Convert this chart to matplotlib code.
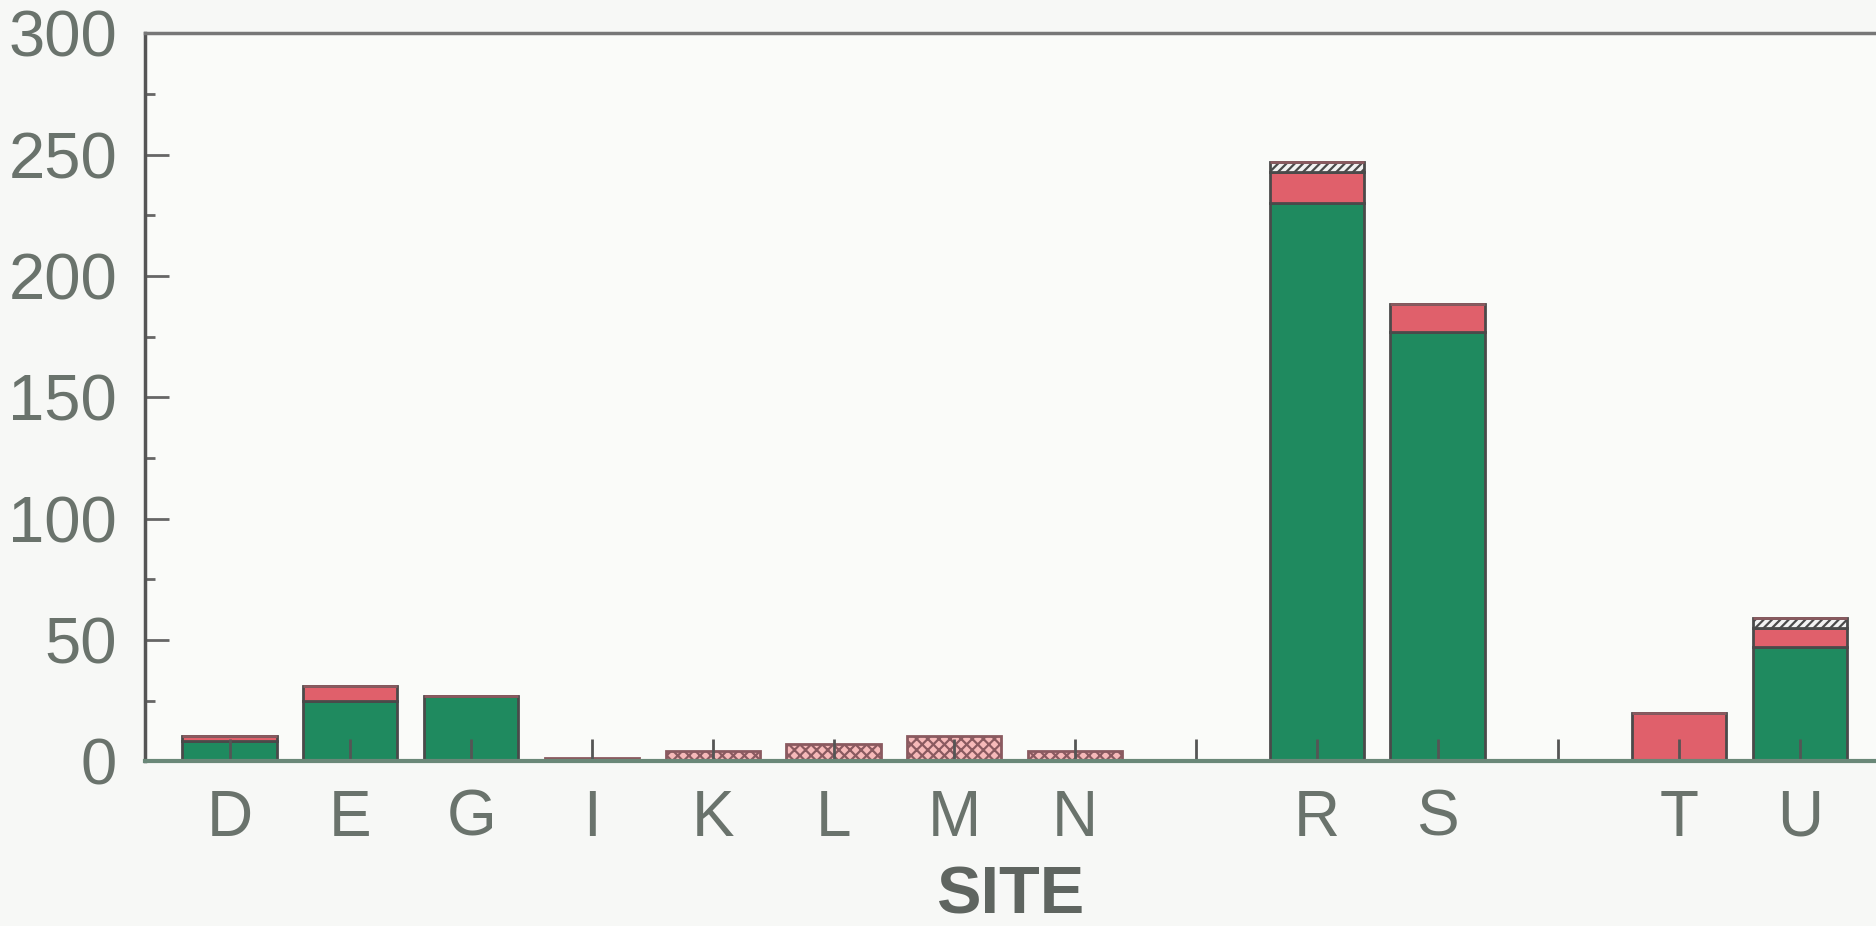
import numpy as np
import matplotlib.pyplot as plt

# sites along the x axis; empty strings are spacer slots between groups
sites = ['D', 'E', 'G', 'I', 'K', 'L', 'M', 'N', '', 'R', 'S', '', 'T', 'U']

green = [8.5, 25, 27, 0, 0, 0, 0, 0, 0, 230, 177, 0, 0, 47]
red = [2, 6, 0, 0, 0, 0, 0, 0, 0, 13, 11.5, 0, 20, 8]
striped = [0, 0, 0, 0, 0, 0, 0, 0, 0, 4, 0, 0, 0, 4]
checked = [0, 0, 0, 1.5, 4, 7, 10.5, 4, 0, 0, 0, 0, 0, 0]

yticks = [0, 50, 100, 150, 200, 250, 300]

txt = '#6a736c'
edge = '#4a4a4a'
plt.rcParams['font.family'] = ['Liberation Sans', 'DejaVu Sans']
plt.rcParams['hatch.linewidth'] = 1.6

fig = plt.figure(figsize=(18.76, 9.26), dpi=100, facecolor='#f7f8f6')
ax = fig.add_axes([0.0773, 0.178, 0.9227, 0.786])
ax.set_facecolor('#fafbf9')

x = np.arange(len(sites))
w = 0.78
g = np.array(green)
r = np.array(red)
s = np.array(striped)
c = np.array(checked)

ax.bar(x, g, w, color='#1f8a5f', edgecolor=edge, linewidth=2)
ax.bar(x, r, w, bottom=g, color='#e0606b', edgecolor=edge, linewidth=2)
ax.bar(x, s, w, bottom=g + r, color='#f2f2f2', edgecolor=edge,
       linewidth=2, hatch='////')
ax.bar(x, c, w, bottom=g + r + s, color='#f6b9b9', edgecolor='#8a5a60',
       linewidth=2, hatch='xxx')

ax.set_xlim(-0.70, 13.63)
ax.set_ylim(0, 300)
ax.set_yticks(yticks)
ax.set_yticks(np.arange(25, 300, 50), minor=True)
ax.set_xticks(x)
ax.set_xticklabels(sites)

ax.tick_params(axis='y', which='major', direction='in', length=17, width=2,
               color='#666', labelsize=47, labelcolor=txt, pad=20)
ax.tick_params(axis='y', which='minor', direction='in', length=7, width=2,
               color='#666')
ax.tick_params(axis='x', direction='in', length=16, width=2, color='#555',
               labelsize=46, labelcolor=txt, pad=20)

ax.spines['right'].set_visible(False)
ax.spines['left'].set_color('#555')
ax.spines['left'].set_linewidth(2.5)
ax.spines['top'].set_color('#777')
ax.spines['top'].set_linewidth(2.5)
ax.spines['bottom'].set_color('#6a8878')
ax.spines['bottom'].set_linewidth(3)

ax.set_xlabel('SITE', fontsize=48, fontweight='bold', color='#5f6560',
              labelpad=12)

fig.savefig('out.png', dpi=100, facecolor=fig.get_facecolor())
